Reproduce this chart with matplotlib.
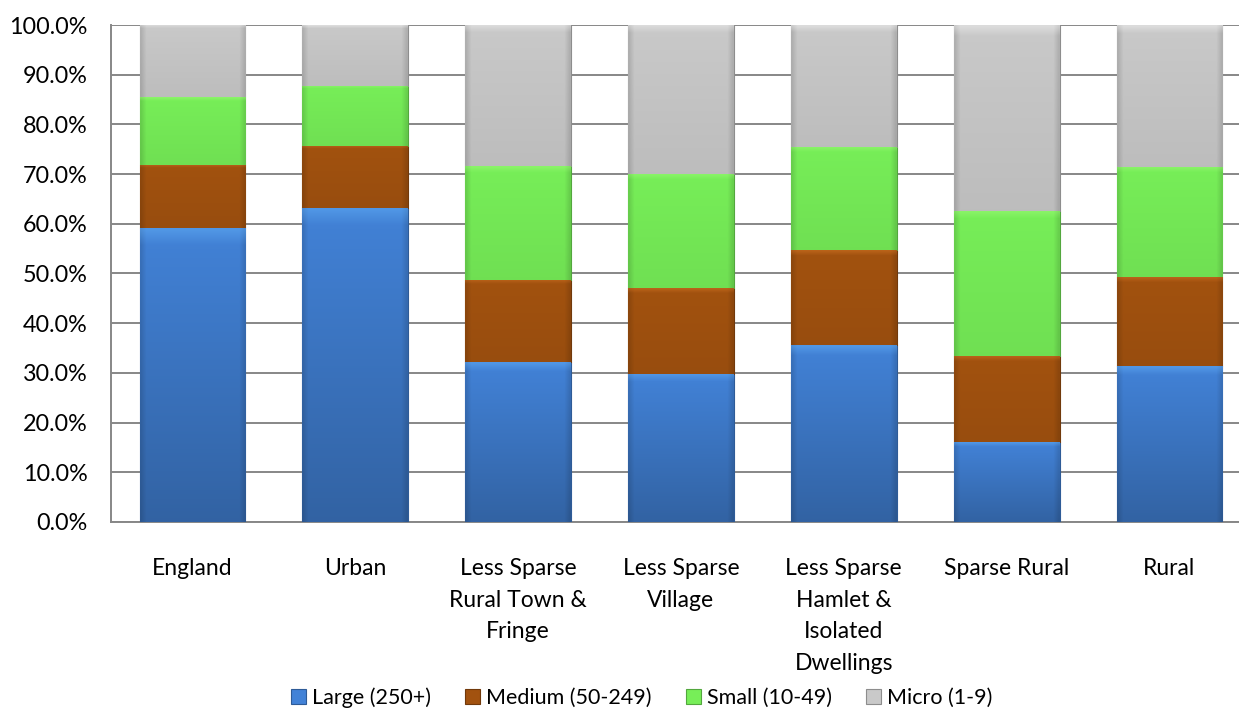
import numpy as np
import matplotlib.pyplot as plt
from matplotlib.colors import to_rgb
from matplotlib.ticker import FuncFormatter

plt.rcParams['font.family'] = ['Lato', 'DejaVu Sans']

# data (share of employment by business size)
categories = ["England", "Urban", "Less Sparse\nRural Town &\nFringe", "Less Sparse\nVillage",
              "Less Sparse\nHamlet &\nIsolated\nDwellings", "Sparse Rural", "Rural"]
large = [59.1, 63.2, 32.1, 29.8, 35.6, 16.0, 31.3]
medium = [12.8, 12.5, 16.6, 17.2, 19.1, 17.3, 17.9]
small = [13.6, 12.1, 22.9, 23.0, 20.8, 29.3, 22.3]
micro = [14.5, 12.2, 28.4, 30.0, 24.5, 37.4, 28.5]

series = [("Large (250+)", large, "#4282d7"),
          ("Medium (50-249)", medium, "#a2520f"),
          ("Small (10-49)", small, "#77ee58"),
          ("Micro (1-9)", micro, "#c9c9c9")]

fig = plt.figure(figsize=(12.39, 7.15), dpi=100)
ax = fig.add_axes([0.0896, 0.270, 0.920, 0.695])

x = np.arange(len(categories))
bottom = np.zeros(len(categories))
handles = []
for name, vals, col in series:
    vals = np.array(vals) / 100.0
    rgb = np.array(to_rgb(col))
    bars = ax.bar(x, vals, 0.65, bottom=bottom, color=col, label=name,
                  edgecolor=tuple(rgb * 0.7), linewidth=0.8, zorder=3)
    handles.append(bars)
    # soft vertical shading like the Excel bevel style
    dark = 0.76 if name.startswith("Large") else 0.94
    for p in bars.patches:
        px, py = p.get_x(), p.get_y()
        w, h = p.get_width(), p.get_height()
        t = np.linspace(0, 1, 60)[:, None]
        u = np.linspace(0, 1, 40)[None, :]
        shade = (1 - (1 - dark) * t) * (1 - 0.12 * np.clip(1 - np.minimum(u, 1 - u) / 0.05, 0, 1))
        img = np.clip(shade[..., None] * rgb, 0, 1)
        top = np.clip(1 - np.linspace(0, 1, 60) / 0.05, 0, 1)[:, None, None]
        img = img * (1 - 0.35 * top) + 0.35 * top * np.clip(rgb * 1.25 + 0.1, 0, 1)
        im = ax.imshow(img, extent=[px, px + w, py, py + h], origin="upper",
                       aspect="auto", zorder=3.5, interpolation="bilinear")
        im.set_clip_path(p)
    bottom = bottom + vals

ax.set_xlim(-0.5, 6.5)
ax.set_ylim(0, 1.0)
ax.set_yticks(np.arange(0, 1.01, 0.1))
ax.yaxis.set_major_formatter(FuncFormatter(lambda v, _: f"{v * 100:.1f}%"))
ax.set_xticks(x)
ax.set_xticklabels(categories, linespacing=1.62)
ax.tick_params(axis="y", length=0, pad=17, labelsize=16.8)
ax.tick_params(axis="x", length=0, pad=26, labelsize=16.5)
ax.grid(axis="y", color="#878787", linewidth=1.4, zorder=0)
ax.set_axisbelow(True)
for s in ["left", "bottom"]:
    ax.spines[s].set_color("#878787")
    ax.spines[s].set_linewidth(1.4)
for s in ["top", "right"]:
    ax.spines[s].set_visible(False)

fig.legend(handles=handles, loc="center", bbox_to_anchor=(641.5 / 1239, 0.024),
           ncol=4, frameon=False, fontsize=15.5, handlelength=0.7, handleheight=0.7,
           handletextpad=0.28, columnspacing=1.58)

fig.savefig("out.png", dpi=100)
